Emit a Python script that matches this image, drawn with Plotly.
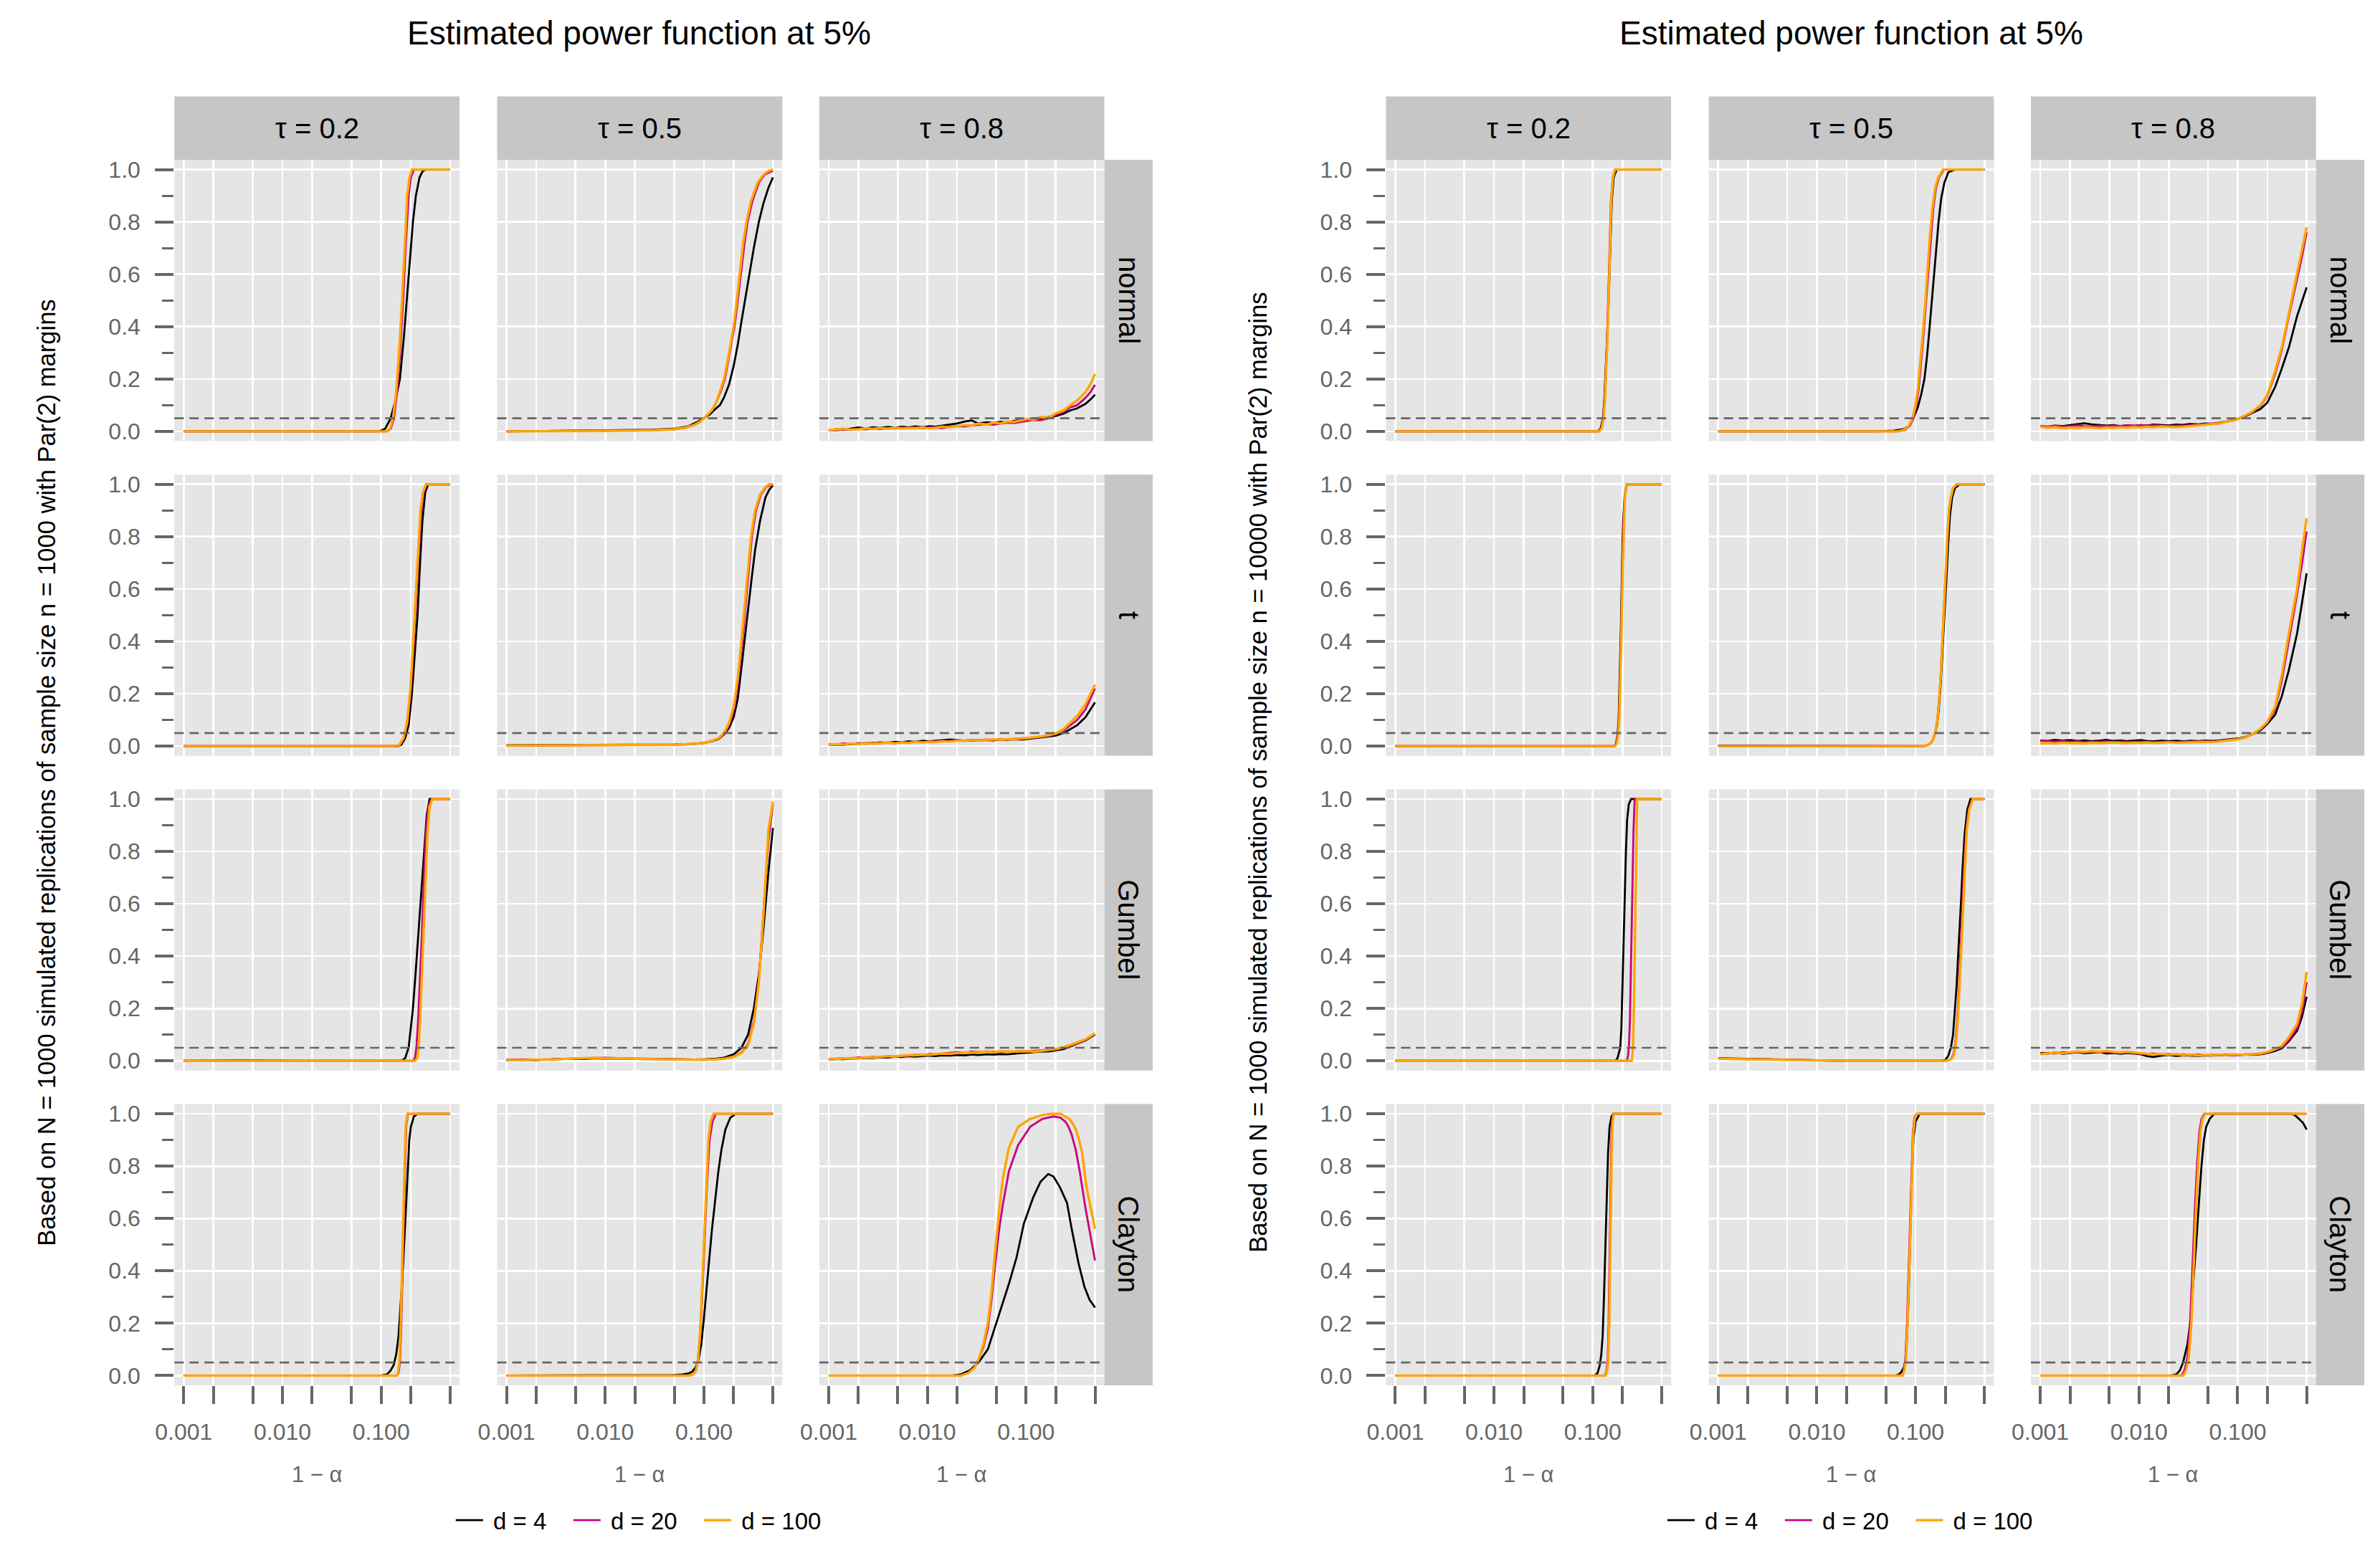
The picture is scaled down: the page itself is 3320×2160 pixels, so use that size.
import math
import plotly.graph_objects as go

# ---------------- data ----------------
X_TICKS = [0.001, 0.002, 0.005, 0.01, 0.02, 0.05, 0.1, 0.2, 0.5]
X_TICKTEXT = ["0.001", "", "", "0.010", "", "", "0.100", "", ""]
Y_TICKS = [0.0, 0.2, 0.4, 0.6, 0.8, 1.0]
Y_TICKTEXT = ["0.0", "0.2", "0.4", "0.6", "0.8", "1.0"]
Y_MINOR = [0.1, 0.3, 0.5, 0.7, 0.9]
TAUS = ["τ = 0.2", "τ = 0.5", "τ = 0.8"]
COPULAS = ["normal", "t", "Gumbel", "Clayton"]
DIMS = ["d = 4", "d = 20", "d = 100"]
COLORS = ["#000000", "#C8067F", "#FFA500"]
LEVEL = 0.05
TITLES = ["Estimated power function at 5%", "Estimated power function at 5%"]
YTITLES = [
    "Based on N = 1000 simulated replications of sample size n = 1000 with Par(2) margins",
    "Based on N = 1000 simulated replications of sample size n = 10000 with Par(2) margins",
]
XLABEL = "1 − α"

# common x grid for the noisy (tau = 0.8) panels
NX = [0.001, 0.0012, 0.0014, 0.0017, 0.002, 0.0024, 0.0028, 0.0033, 0.004, 0.0047,
      0.0055, 0.0065, 0.0075, 0.009, 0.0105, 0.012, 0.014, 0.017, 0.02, 0.024,
      0.028, 0.033, 0.04, 0.047, 0.055, 0.065, 0.075, 0.09, 0.105, 0.12,
      0.14, 0.17, 0.2, 0.24, 0.28, 0.33, 0.4, 0.45, 0.5]

# ===== n = 1000 (left) =====
# normal, tau 0.2
A_nor_2_d4_x = [0.001, 0.095, 0.11, 0.125, 0.14, 0.155, 0.17, 0.182, 0.195, 0.21, 0.225, 0.245, 0.265, 0.285, 0.5]
A_nor_2_d4_y = [0, 0, 0.01, 0.05, 0.12, 0.2, 0.36, 0.5, 0.65, 0.8, 0.9, 0.97, 0.995, 1, 1]
A_nor_2_d20_x = [0.001, 0.115, 0.125, 0.135, 0.145, 0.155, 0.167, 0.178, 0.19, 0.2, 0.215, 0.5]
A_nor_2_d20_y = [0, 0, 0.01, 0.05, 0.15, 0.3, 0.5, 0.72, 0.9, 0.97, 1, 1]
A_nor_2_d100_x = [0.001, 0.113, 0.123, 0.132, 0.142, 0.152, 0.163, 0.173, 0.184, 0.194, 0.205, 0.5]
A_nor_2_d100_y = [0, 0, 0.01, 0.05, 0.15, 0.3, 0.5, 0.72, 0.9, 0.97, 1, 1]
# normal, tau 0.5
A_nor_5_d4_x = [0.001, 0.005, 0.01, 0.02, 0.03, 0.05, 0.07, 0.085, 0.1, 0.115, 0.13, 0.145, 0.16, 0.18, 0.2, 0.22, 0.24, 0.265, 0.29, 0.32, 0.36, 0.4, 0.45, 0.5]
A_nor_5_d4_y = [0, 0.002, 0.003, 0.004, 0.006, 0.01, 0.02, 0.035, 0.05, 0.065, 0.085, 0.1, 0.13, 0.18, 0.25, 0.33, 0.42, 0.52, 0.6, 0.7, 0.8, 0.87, 0.93, 0.97]
A_nor_5_d20_x = [0.001, 0.002, 0.005, 0.01, 0.02, 0.03, 0.05, 0.065, 0.08, 0.09, 0.1, 0.11, 0.12, 0.133, 0.147, 0.163, 0.183, 0.204, 0.22, 0.236, 0.256, 0.277, 0.31, 0.36, 0.41, 0.46, 0.5]
A_nor_5_d20_y = [0, 0.001, 0.001, 0.003, 0.003, 0.005, 0.008, 0.014, 0.025, 0.035, 0.05, 0.065, 0.08, 0.11, 0.15, 0.2, 0.3, 0.4, 0.5, 0.6, 0.71, 0.8, 0.88, 0.95, 0.98, 0.99, 0.995]
A_nor_5_d100_x = [0.001, 0.002, 0.005, 0.01, 0.02, 0.03, 0.05, 0.065, 0.08, 0.09, 0.1, 0.11, 0.12, 0.133, 0.145, 0.16, 0.18, 0.2, 0.215, 0.23, 0.25, 0.27, 0.3, 0.35, 0.4, 0.45, 0.5]
A_nor_5_d100_y = [0, 0, 0.001, 0.002, 0.003, 0.004, 0.008, 0.015, 0.025, 0.035, 0.05, 0.065, 0.08, 0.11, 0.15, 0.2, 0.3, 0.4, 0.5, 0.6, 0.72, 0.8, 0.88, 0.95, 0.98, 0.995, 1]
# normal, tau 0.8 (x = NX)
A_nor_8_d4_y = [0.003, 0.008, 0.006, 0.012, 0.015, 0.011, 0.016, 0.013, 0.017, 0.014,
                0.018, 0.015, 0.019, 0.016, 0.020, 0.018, 0.022, 0.027, 0.030, 0.038,
                0.042, 0.030, 0.035, 0.032, 0.036, 0.034, 0.040, 0.044, 0.042, 0.050,
                0.047, 0.055, 0.058, 0.068, 0.080, 0.088, 0.105, 0.122, 0.140]
A_nor_8_d20_y = [0.005, 0.004, 0.008, 0.006, 0.010, 0.008, 0.012, 0.009, 0.013, 0.011,
                 0.014, 0.012, 0.015, 0.013, 0.016, 0.014, 0.013, 0.018, 0.020, 0.019,
                 0.023, 0.025, 0.028, 0.026, 0.030, 0.034, 0.032, 0.037, 0.040, 0.044,
                 0.043, 0.050, 0.063, 0.075, 0.092, 0.100, 0.128, 0.150, 0.178]
A_nor_8_d100_y = [0.004, 0.006, 0.010, 0.007, 0.008, 0.012, 0.009, 0.013, 0.010, 0.014,
                  0.011, 0.013, 0.012, 0.015, 0.011, 0.014, 0.018, 0.016, 0.020, 0.024,
                  0.022, 0.030, 0.026, 0.034, 0.030, 0.038, 0.036, 0.042, 0.048, 0.045,
                  0.055, 0.052, 0.069, 0.080, 0.100, 0.118, 0.150, 0.180, 0.220]
# t, tau 0.2
A_t_2_d4_x = [0.001, 0.145, 0.16, 0.175, 0.19, 0.205, 0.22, 0.234, 0.248, 0.262, 0.28, 0.3, 0.5]
A_t_2_d4_y = [0, 0, 0.005, 0.03, 0.08, 0.2, 0.36, 0.5, 0.7, 0.86, 0.97, 1, 1]
A_t_2_d20_x = [0.001, 0.14, 0.155, 0.17, 0.185, 0.2, 0.213, 0.226, 0.24, 0.255, 0.27, 0.29, 0.5]
A_t_2_d20_y = [0, 0, 0.005, 0.03, 0.09, 0.22, 0.38, 0.55, 0.75, 0.9, 0.97, 1, 1]
A_t_2_d100_x = [0.001, 0.138, 0.153, 0.168, 0.183, 0.198, 0.21, 0.222, 0.236, 0.25, 0.265, 0.285, 0.5]
A_t_2_d100_y = [0, 0, 0.005, 0.03, 0.09, 0.22, 0.38, 0.55, 0.75, 0.9, 0.97, 1, 1]
# t, tau 0.5
A_t_5_d4_x = [0.001, 0.005, 0.01, 0.02, 0.05, 0.08, 0.1, 0.12, 0.14, 0.16, 0.18, 0.2, 0.22, 0.24, 0.26, 0.28, 0.3, 0.33, 0.37, 0.42, 0.46, 0.5]
A_t_5_d4_y = [0.003, 0.004, 0.003, 0.005, 0.006, 0.009, 0.012, 0.018, 0.027, 0.045, 0.07, 0.11, 0.18, 0.3, 0.42, 0.52, 0.62, 0.75, 0.86, 0.95, 0.98, 0.995]
A_t_5_d20_x = [0.001, 0.005, 0.01, 0.02, 0.05, 0.08, 0.1, 0.122, 0.143, 0.163, 0.184, 0.204, 0.224, 0.245, 0.265, 0.286, 0.306, 0.337, 0.377, 0.428, 0.47, 0.5]
A_t_5_d20_y = [0.002, 0.003, 0.004, 0.004, 0.005, 0.008, 0.012, 0.02, 0.03, 0.05, 0.09, 0.15, 0.26, 0.4, 0.54, 0.68, 0.8, 0.9, 0.96, 0.99, 0.995, 1]
A_t_5_d100_x = [0.001, 0.005, 0.01, 0.02, 0.05, 0.08, 0.1, 0.12, 0.14, 0.16, 0.18, 0.2, 0.22, 0.24, 0.26, 0.28, 0.3, 0.33, 0.37, 0.42, 0.46, 0.5]
A_t_5_d100_y = [0.002, 0.003, 0.004, 0.004, 0.005, 0.008, 0.012, 0.02, 0.03, 0.05, 0.09, 0.15, 0.26, 0.4, 0.54, 0.68, 0.8, 0.9, 0.96, 0.99, 1, 1]
# t, tau 0.8 (x = NX)
A_t_8_d4_y = [0.004, 0.006, 0.005, 0.009, 0.008, 0.012, 0.010, 0.014, 0.012, 0.016,
              0.015, 0.018, 0.016, 0.020, 0.018, 0.020, 0.022, 0.025, 0.023, 0.020,
              0.022, 0.021, 0.023, 0.022, 0.025, 0.024, 0.026, 0.025, 0.027, 0.030,
              0.032, 0.036, 0.040, 0.050, 0.065, 0.080, 0.110, 0.140, 0.167]
A_t_8_d20_y = [0.008, 0.006, 0.010, 0.008, 0.011, 0.009, 0.013, 0.011, 0.014, 0.012,
               0.015, 0.013, 0.017, 0.015, 0.017, 0.019, 0.018, 0.020, 0.022, 0.021,
               0.024, 0.022, 0.025, 0.023, 0.027, 0.025, 0.028, 0.030, 0.029, 0.033,
               0.036, 0.040, 0.047, 0.060, 0.080, 0.100, 0.140, 0.180, 0.220]
A_t_8_d100_y = [0.005, 0.008, 0.006, 0.010, 0.007, 0.012, 0.009, 0.011, 0.013, 0.010,
                0.014, 0.012, 0.016, 0.014, 0.016, 0.015, 0.019, 0.017, 0.021, 0.020,
                0.023, 0.021, 0.024, 0.026, 0.025, 0.027, 0.026, 0.029, 0.031, 0.034,
                0.036, 0.042, 0.048, 0.065, 0.090, 0.115, 0.160, 0.200, 0.235]
# Gumbel, tau 0.2
A_gum_2_d4_x = [0.001, 0.004, 0.01, 0.015, 0.16, 0.175, 0.19, 0.2, 0.21, 0.225, 0.24, 0.255, 0.27, 0.29, 0.31, 0.5]
A_gum_2_d4_y = [0, 0.002, 0.001, 0, 0, 0.01, 0.05, 0.12, 0.2, 0.35, 0.5, 0.66, 0.8, 0.94, 1, 1]
A_gum_2_d20_x = [0.001, 0.21, 0.22, 0.228, 0.237, 0.247, 0.26, 0.272, 0.285, 0.3, 0.325, 0.5]
A_gum_2_d20_y = [0, 0, 0.01, 0.05, 0.15, 0.3, 0.5, 0.7, 0.87, 0.97, 1, 1]
A_gum_2_d100_x = [0.001, 0.22, 0.232, 0.24, 0.248, 0.258, 0.272, 0.283, 0.295, 0.31, 0.33, 0.5]
A_gum_2_d100_y = [0, 0, 0.01, 0.05, 0.15, 0.3, 0.5, 0.7, 0.87, 0.97, 1, 1]
# Gumbel, tau 0.5
A_gum_5_x = [0.001, 0.0015, 0.002, 0.003, 0.004, 0.006, 0.008, 0.01, 0.015, 0.02, 0.03, 0.05, 0.08, 0.1, 0.13, 0.16, 0.2, 0.24, 0.28, 0.32, 0.36, 0.4, 0.45, 0.5]
A_gum_5_d4_y = [0.002, 0.004, 0.003, 0.006, 0.008, 0.007, 0.010, 0.008, 0.009, 0.007, 0.006, 0.006, 0.005, 0.006, 0.008, 0.012, 0.025, 0.05, 0.1, 0.2, 0.33, 0.5, 0.72, 0.89]
A_gum_5_d20_y = [0.004, 0.003, 0.004, 0.006, 0.007, 0.009, 0.011, 0.012, 0.010, 0.009, 0.007, 0.006, 0.005, 0.004, 0.006, 0.009, 0.017, 0.032, 0.065, 0.15, 0.31, 0.55, 0.84, 0.98]
A_gum_5_d100_y = [0.003, 0.002, 0.005, 0.004, 0.008, 0.010, 0.012, 0.009, 0.010, 0.008, 0.006, 0.005, 0.004, 0.004, 0.005, 0.008, 0.015, 0.03, 0.06, 0.14, 0.3, 0.55, 0.88, 0.99]
# Gumbel, tau 0.8 (x = NX)
A_gum_8_d4_y = [0.004, 0.007, 0.006, 0.010, 0.009, 0.012, 0.011, 0.014, 0.013, 0.016,
                0.015, 0.018, 0.016, 0.019, 0.020, 0.018, 0.021, 0.020, 0.022, 0.021,
                0.024, 0.022, 0.025, 0.024, 0.026, 0.025, 0.028, 0.030, 0.031, 0.033,
                0.035, 0.036, 0.040, 0.045, 0.055, 0.065, 0.078, 0.090, 0.100]
A_gum_8_d20_y = [0.006, 0.008, 0.010, 0.009, 0.013, 0.012, 0.015, 0.014, 0.017, 0.016,
                 0.019, 0.020, 0.023, 0.022, 0.026, 0.025, 0.028, 0.030, 0.033, 0.031,
                 0.035, 0.034, 0.036, 0.035, 0.034, 0.036, 0.035, 0.037, 0.036, 0.038,
                 0.040, 0.042, 0.045, 0.050, 0.058, 0.066, 0.080, 0.092, 0.100]
A_gum_8_d100_y = [0.005, 0.007, 0.009, 0.011, 0.010, 0.014, 0.013, 0.016, 0.018, 0.017,
                  0.020, 0.022, 0.021, 0.024, 0.023, 0.026, 0.028, 0.027, 0.030, 0.032,
                  0.031, 0.034, 0.036, 0.033, 0.037, 0.035, 0.036, 0.038, 0.037, 0.035,
                  0.038, 0.040, 0.045, 0.052, 0.060, 0.070, 0.082, 0.095, 0.105]
# Clayton, tau 0.2
A_cla_2_d4_x = [0.001, 0.1, 0.115, 0.125, 0.134, 0.142, 0.15, 0.157, 0.164, 0.171, 0.179, 0.186, 0.193, 0.2, 0.215, 0.235, 0.5]
A_cla_2_d4_y = [0, 0, 0.005, 0.02, 0.04, 0.08, 0.15, 0.25, 0.37, 0.5, 0.65, 0.8, 0.9, 0.95, 0.99, 1, 1]
A_cla_2_d20_x = [0.001, 0.144, 0.15, 0.155, 0.16, 0.165, 0.17, 0.174, 0.179, 0.187, 0.5]
A_cla_2_d20_y = [0, 0, 0.01, 0.05, 0.2, 0.42, 0.62, 0.8, 0.95, 1, 1]
A_cla_2_d100_x = [0.001, 0.143, 0.148, 0.153, 0.158, 0.163, 0.168, 0.172, 0.177, 0.185, 0.5]
A_cla_2_d100_y = [0, 0, 0.01, 0.05, 0.2, 0.42, 0.62, 0.8, 0.95, 1, 1]
# Clayton, tau 0.5
A_cla_5_d4_x = [0.001, 0.04, 0.05, 0.06, 0.07, 0.076, 0.082, 0.088, 0.094, 0.1, 0.106, 0.112, 0.12, 0.13, 0.14, 0.15, 0.165, 0.185, 0.21, 0.5]
A_cla_5_d4_y = [0, 0, 0.002, 0.004, 0.008, 0.015, 0.03, 0.06, 0.12, 0.22, 0.33, 0.43, 0.55, 0.67, 0.78, 0.86, 0.94, 0.985, 1, 1]
A_cla_5_d20_x = [0.001, 0.072, 0.078, 0.083, 0.087, 0.091, 0.096, 0.101, 0.107, 0.114, 0.122, 0.132, 0.5]
A_cla_5_d20_y = [0, 0, 0.005, 0.02, 0.06, 0.15, 0.3, 0.5, 0.72, 0.9, 0.97, 1, 1]
A_cla_5_d100_x = [0.001, 0.072, 0.078, 0.083, 0.087, 0.091, 0.095, 0.1, 0.105, 0.111, 0.117, 0.125, 0.5]
A_cla_5_d100_y = [0, 0, 0.005, 0.02, 0.06, 0.15, 0.3, 0.5, 0.72, 0.9, 0.97, 1, 1]
# Clayton, tau 0.8
A_cla_8_d4_x = [0.001, 0.018, 0.022, 0.027, 0.033, 0.041, 0.048, 0.056, 0.067, 0.08, 0.095, 0.118, 0.14, 0.168, 0.19, 0.22, 0.26, 0.29, 0.34, 0.39, 0.44, 0.5]
A_cla_8_d4_y = [0, 0, 0.005, 0.02, 0.05, 0.1, 0.18, 0.26, 0.35, 0.45, 0.58, 0.68, 0.74, 0.77, 0.76, 0.72, 0.66, 0.56, 0.43, 0.34, 0.29, 0.26]
A_cla_8_d20_x = [0.001, 0.022, 0.026, 0.03, 0.033, 0.037, 0.041, 0.045, 0.048, 0.053, 0.058, 0.067, 0.083, 0.11, 0.146, 0.19, 0.223, 0.25, 0.27, 0.29, 0.32, 0.35, 0.4, 0.45, 0.5]
A_cla_8_d20_y = [0, 0, 0.01, 0.03, 0.06, 0.11, 0.18, 0.3, 0.4, 0.55, 0.65, 0.78, 0.88, 0.95, 0.98, 0.99, 0.985, 0.97, 0.95, 0.92, 0.86, 0.78, 0.64, 0.54, 0.44]
A_cla_8_d100_x = [0.001, 0.022, 0.026, 0.03, 0.033, 0.037, 0.041, 0.045, 0.048, 0.053, 0.058, 0.067, 0.083, 0.11, 0.146, 0.18, 0.223, 0.25, 0.275, 0.3, 0.32, 0.345, 0.37, 0.41, 0.45, 0.5]
A_cla_8_d100_y = [0, 0, 0.01, 0.03, 0.06, 0.12, 0.2, 0.33, 0.45, 0.62, 0.75, 0.87, 0.95, 0.98, 0.995, 1, 1, 0.99, 0.98, 0.96, 0.94, 0.9, 0.85, 0.72, 0.64, 0.56]

# ===== n = 10000 (right) =====
# normal, tau 0.2
B_nor_2_d4_x = [0.001, 0.112, 0.12, 0.127, 0.131, 0.135, 0.14, 0.145, 0.15, 0.156, 0.163, 0.175, 0.5]
B_nor_2_d4_y = [0, 0, 0.01, 0.05, 0.12, 0.22, 0.36, 0.5, 0.68, 0.88, 0.97, 1, 1]
B_nor_2_d20_x = [0.001, 0.115, 0.122, 0.128, 0.132, 0.136, 0.14, 0.144, 0.148, 0.153, 0.16, 0.17, 0.5]
B_nor_2_d20_y = [0, 0, 0.01, 0.05, 0.12, 0.22, 0.36, 0.5, 0.68, 0.88, 0.97, 1, 1]
B_nor_2_d100_x = [0.001, 0.116, 0.123, 0.129, 0.133, 0.137, 0.141, 0.145, 0.149, 0.154, 0.16, 0.168, 0.5]
B_nor_2_d100_y = [0, 0, 0.01, 0.05, 0.12, 0.22, 0.36, 0.5, 0.68, 0.88, 0.97, 1, 1]
# normal, tau 0.5
B_nor_5_d4_x = [0.001, 0.04, 0.06, 0.075, 0.085, 0.095, 0.105, 0.114, 0.123, 0.131, 0.139, 0.146, 0.154, 0.162, 0.171, 0.182, 0.196, 0.215, 0.25, 0.5]
B_nor_5_d4_y = [0, 0, 0.003, 0.008, 0.02, 0.05, 0.09, 0.14, 0.2, 0.29, 0.4, 0.5, 0.6, 0.7, 0.8, 0.89, 0.95, 0.99, 1, 1]
B_nor_5_d20_x = [0.001, 0.066, 0.077, 0.087, 0.095, 0.102, 0.108, 0.114, 0.121, 0.128, 0.136, 0.143, 0.151, 0.161, 0.173, 0.194, 0.5]
B_nor_5_d20_y = [0, 0, 0.005, 0.02, 0.05, 0.1, 0.17, 0.26, 0.38, 0.5, 0.63, 0.75, 0.85, 0.93, 0.97, 1, 1]
B_nor_5_d100_x = [0.001, 0.065, 0.075, 0.085, 0.093, 0.1, 0.106, 0.112, 0.119, 0.126, 0.133, 0.14, 0.148, 0.158, 0.17, 0.19, 0.5]
B_nor_5_d100_y = [0, 0, 0.005, 0.02, 0.05, 0.1, 0.17, 0.26, 0.38, 0.5, 0.63, 0.75, 0.85, 0.93, 0.97, 1, 1]
# normal, tau 0.8 (x = NX)
B_nor_8_d4_y = [0.020, 0.018, 0.022, 0.020, 0.024, 0.028, 0.031, 0.027, 0.025, 0.022,
                0.024, 0.020, 0.023, 0.021, 0.024, 0.022, 0.026, 0.024, 0.023, 0.026,
                0.025, 0.028, 0.027, 0.030, 0.029, 0.033, 0.037, 0.042, 0.050, 0.058,
                0.070, 0.085, 0.110, 0.170, 0.240, 0.320, 0.440, 0.500, 0.550]
B_nor_8_d20_y = [0.020, 0.017, 0.022, 0.018, 0.020, 0.023, 0.020, 0.018, 0.021, 0.019,
                 0.022, 0.020, 0.023, 0.021, 0.024, 0.022, 0.023, 0.021, 0.020, 0.022,
                 0.021, 0.023, 0.025, 0.027, 0.029, 0.032, 0.037, 0.043, 0.050, 0.060,
                 0.073, 0.098, 0.135, 0.220, 0.310, 0.440, 0.580, 0.670, 0.760]
B_nor_8_d100_y = [0.018, 0.014, 0.016, 0.012, 0.015, 0.013, 0.016, 0.014, 0.012, 0.015,
                  0.013, 0.016, 0.014, 0.017, 0.015, 0.018, 0.016, 0.019, 0.017, 0.016,
                  0.018, 0.020, 0.022, 0.025, 0.027, 0.030, 0.036, 0.042, 0.050, 0.062,
                  0.075, 0.100, 0.139, 0.230, 0.320, 0.450, 0.600, 0.690, 0.780]
# t, tau 0.2
B_t_2_d4_x = [0.001, 0.165, 0.172, 0.178, 0.183, 0.188, 0.193, 0.198, 0.203, 0.21, 0.22, 0.5]
B_t_2_d4_y = [0, 0, 0.01, 0.04, 0.1, 0.25, 0.45, 0.68, 0.85, 0.95, 1, 1]
B_t_2_d20_x = [0.001, 0.167, 0.174, 0.18, 0.185, 0.19, 0.195, 0.2, 0.205, 0.212, 0.222, 0.5]
B_t_2_d20_y = [0, 0, 0.01, 0.04, 0.1, 0.25, 0.45, 0.68, 0.85, 0.95, 1, 1]
B_t_2_d100_x = [0.001, 0.168, 0.175, 0.181, 0.186, 0.191, 0.196, 0.201, 0.206, 0.212, 0.22, 0.5]
B_t_2_d100_y = [0, 0, 0.01, 0.04, 0.1, 0.25, 0.45, 0.68, 0.85, 0.95, 1, 1]
# t, tau 0.5
B_t_5_d4_x = [0.001, 0.0015, 0.002, 0.12, 0.135, 0.145, 0.152, 0.158, 0.165, 0.172, 0.18, 0.188, 0.196, 0.205, 0.214, 0.223, 0.235, 0.25, 0.28, 0.5]
B_t_5_d4_y = [0.002, 0.002, 0, 0, 0.005, 0.015, 0.03, 0.05, 0.08, 0.14, 0.24, 0.36, 0.48, 0.63, 0.77, 0.88, 0.95, 0.985, 1, 1]
B_t_5_d20_x = [0.001, 0.12, 0.135, 0.145, 0.152, 0.158, 0.165, 0.172, 0.18, 0.187, 0.194, 0.202, 0.21, 0.218, 0.228, 0.24, 0.262, 0.5]
B_t_5_d20_y = [0, 0, 0.005, 0.015, 0.03, 0.05, 0.09, 0.16, 0.27, 0.39, 0.5, 0.66, 0.8, 0.9, 0.95, 0.985, 1, 1]
B_t_5_d100_x = [0.001, 0.12, 0.135, 0.145, 0.152, 0.158, 0.165, 0.172, 0.18, 0.187, 0.194, 0.202, 0.21, 0.218, 0.228, 0.24, 0.26, 0.5]
B_t_5_d100_y = [0, 0, 0.005, 0.015, 0.03, 0.05, 0.09, 0.16, 0.27, 0.39, 0.5, 0.66, 0.8, 0.9, 0.95, 0.985, 1, 1]
# t, tau 0.8 (x = NX)
B_t_8_d4_y = [0.022, 0.020, 0.024, 0.021, 0.023, 0.020, 0.022, 0.019, 0.021, 0.024,
              0.020, 0.022, 0.019, 0.021, 0.023, 0.020, 0.018, 0.021, 0.019, 0.020,
              0.018, 0.020, 0.019, 0.021, 0.020, 0.022, 0.025, 0.028, 0.030, 0.035,
              0.045, 0.060, 0.085, 0.120, 0.190, 0.290, 0.430, 0.550, 0.660]
B_t_8_d20_y = [0.020, 0.018, 0.017, 0.019, 0.016, 0.018, 0.015, 0.017, 0.016, 0.018,
               0.015, 0.017, 0.016, 0.015, 0.017, 0.016, 0.015, 0.017, 0.016, 0.015,
               0.016, 0.017, 0.016, 0.018, 0.017, 0.019, 0.021, 0.024, 0.028, 0.034,
               0.045, 0.065, 0.090, 0.140, 0.250, 0.400, 0.580, 0.700, 0.820]
B_t_8_d100_y = [0.010, 0.012, 0.010, 0.013, 0.011, 0.012, 0.010, 0.013, 0.011, 0.012,
                0.014, 0.012, 0.011, 0.013, 0.012, 0.014, 0.012, 0.013, 0.015, 0.013,
                0.014, 0.015, 0.014, 0.016, 0.015, 0.018, 0.020, 0.023, 0.027, 0.033,
                0.045, 0.066, 0.093, 0.150, 0.270, 0.430, 0.600, 0.750, 0.870]
# Gumbel, tau 0.2
B_gum_2_d4_x = [0.001, 0.17, 0.178, 0.185, 0.19, 0.195, 0.2, 0.206, 0.212, 0.217, 0.223, 0.232, 0.245, 0.5]
B_gum_2_d4_y = [0, 0, 0.01, 0.03, 0.05, 0.12, 0.3, 0.5, 0.68, 0.8, 0.92, 0.98, 1, 1]
B_gum_2_d20_x = [0.001, 0.222, 0.228, 0.233, 0.238, 0.243, 0.248, 0.253, 0.259, 0.266, 0.5]
B_gum_2_d20_y = [0, 0, 0.02, 0.06, 0.15, 0.32, 0.5, 0.7, 0.88, 1, 1]
B_gum_2_d100_x = [0.001, 0.248, 0.252, 0.256, 0.26, 0.264, 0.268, 0.272, 0.276, 0.282, 0.5]
B_gum_2_d100_y = [0, 0, 0.02, 0.06, 0.15, 0.32, 0.5, 0.7, 0.88, 1, 1]
# Gumbel, tau 0.5
B_gum_5_d4_x = [0.001, 0.002, 0.004, 0.007, 0.01, 0.02, 0.18, 0.2, 0.215, 0.228, 0.24, 0.25, 0.26, 0.27, 0.28, 0.29, 0.3, 0.315, 0.335, 0.36, 0.5]
B_gum_5_d4_y = [0.01, 0.008, 0.007, 0.004, 0.002, 0, 0, 0.003, 0.02, 0.05, 0.1, 0.18, 0.28, 0.4, 0.5, 0.62, 0.74, 0.87, 0.96, 1, 1]
B_gum_5_d20_x = [0.001, 0.002, 0.004, 0.007, 0.01, 0.02, 0.2, 0.22, 0.232, 0.242, 0.252, 0.262, 0.272, 0.282, 0.292, 0.302, 0.312, 0.327, 0.347, 0.375, 0.5]
B_gum_5_d20_y = [0.009, 0.007, 0.005, 0.003, 0.001, 0, 0, 0.003, 0.01, 0.025, 0.06, 0.13, 0.23, 0.36, 0.5, 0.63, 0.76, 0.88, 0.96, 1, 1]
B_gum_5_d100_x = [0.001, 0.002, 0.004, 0.007, 0.01, 0.02, 0.2, 0.22, 0.235, 0.245, 0.255, 0.265, 0.275, 0.285, 0.295, 0.305, 0.315, 0.33, 0.35, 0.38, 0.5]
B_gum_5_d100_y = [0.008, 0.006, 0.004, 0.002, 0.001, 0, 0, 0.003, 0.01, 0.025, 0.06, 0.13, 0.23, 0.36, 0.5, 0.63, 0.76, 0.88, 0.96, 1, 1]
# Gumbel, tau 0.8 (x = NX)
B_gum_8_d4_y = [0.030, 0.028, 0.032, 0.027, 0.030, 0.033, 0.029, 0.031, 0.034, 0.028,
                0.030, 0.027, 0.030, 0.028, 0.025, 0.018, 0.015, 0.020, 0.022, 0.019,
                0.021, 0.020, 0.019, 0.021, 0.020, 0.022, 0.021, 0.023, 0.022, 0.024,
                0.023, 0.025, 0.030, 0.038, 0.048, 0.075, 0.115, 0.170, 0.245]
B_gum_8_d20_y = [0.026, 0.030, 0.028, 0.033, 0.031, 0.034, 0.032, 0.036, 0.033, 0.035,
                 0.032, 0.030, 0.033, 0.030, 0.028, 0.026, 0.028, 0.024, 0.026, 0.023,
                 0.025, 0.022, 0.024, 0.021, 0.023, 0.022, 0.024, 0.023, 0.022, 0.025,
                 0.024, 0.027, 0.032, 0.042, 0.052, 0.080, 0.125, 0.190, 0.300]
B_gum_8_d100_y = [0.025, 0.028, 0.031, 0.029, 0.033, 0.036, 0.034, 0.037, 0.035, 0.038,
                  0.034, 0.032, 0.035, 0.031, 0.029, 0.027, 0.025, 0.027, 0.023, 0.026,
                  0.022, 0.024, 0.021, 0.023, 0.022, 0.024, 0.022, 0.025, 0.023, 0.024,
                  0.026, 0.028, 0.034, 0.045, 0.057, 0.090, 0.140, 0.220, 0.340]
# Clayton, tau 0.2
B_cla_2_d4_x = [0.001, 0.105, 0.112, 0.118, 0.122, 0.126, 0.13, 0.134, 0.138, 0.143, 0.148, 0.155, 0.162, 0.5]
B_cla_2_d4_y = [0, 0, 0.01, 0.04, 0.08, 0.15, 0.3, 0.5, 0.68, 0.85, 0.95, 0.99, 1, 1]
B_cla_2_d20_x = [0.001, 0.134, 0.138, 0.142, 0.145, 0.148, 0.151, 0.154, 0.157, 0.161, 0.5]
B_cla_2_d20_y = [0, 0, 0.02, 0.06, 0.2, 0.45, 0.7, 0.88, 0.97, 1, 1]
B_cla_2_d100_x = [0.001, 0.136, 0.14, 0.144, 0.147, 0.15, 0.153, 0.156, 0.159, 0.163, 0.5]
B_cla_2_d100_y = [0, 0, 0.02, 0.06, 0.2, 0.45, 0.7, 0.88, 0.97, 1, 1]
# Clayton, tau 0.5
B_cla_5_d4_x = [0.001, 0.063, 0.068, 0.072, 0.076, 0.079, 0.082, 0.085, 0.088, 0.091, 0.095, 0.1, 0.11, 0.5]
B_cla_5_d4_y = [0, 0, 0.005, 0.015, 0.03, 0.06, 0.15, 0.3, 0.5, 0.72, 0.9, 0.97, 1, 1]
B_cla_5_d20_x = [0.001, 0.073, 0.076, 0.079, 0.082, 0.085, 0.088, 0.091, 0.094, 0.098, 0.103, 0.5]
B_cla_5_d20_y = [0, 0, 0.02, 0.06, 0.2, 0.4, 0.6, 0.8, 0.93, 0.99, 1, 1]
B_cla_5_d100_x = [0.001, 0.074, 0.077, 0.08, 0.083, 0.086, 0.089, 0.092, 0.095, 0.099, 0.104, 0.5]
B_cla_5_d100_y = [0, 0, 0.02, 0.06, 0.2, 0.4, 0.6, 0.8, 0.93, 0.99, 1, 1]
# Clayton, tau 0.8
B_cla_8_d4_x = [0.001, 0.021, 0.024, 0.026, 0.028, 0.031, 0.033, 0.0355, 0.038, 0.0405, 0.043, 0.0455, 0.048, 0.052, 0.058, 0.35, 0.38, 0.42, 0.46, 0.5]
B_cla_8_d4_y = [0, 0, 0.005, 0.02, 0.05, 0.12, 0.2, 0.35, 0.5, 0.66, 0.8, 0.9, 0.95, 0.98, 1, 1, 0.995, 0.98, 0.965, 0.94]
B_cla_8_d20_x = [0.001, 0.027, 0.029, 0.031, 0.033, 0.035, 0.037, 0.039, 0.041, 0.043, 0.046, 0.5]
B_cla_8_d20_y = [0, 0, 0.02, 0.07, 0.2, 0.45, 0.65, 0.82, 0.93, 0.98, 1, 1]
B_cla_8_d100_x = [0.001, 0.028, 0.03, 0.032, 0.034, 0.036, 0.038, 0.04, 0.042, 0.044, 0.047, 0.5]
B_cla_8_d100_y = [0, 0, 0.02, 0.07, 0.2, 0.45, 0.65, 0.82, 0.93, 0.98, 1, 1]

# ---------------- assemble series per panel: [figure][row][col] -> 3 (x, y) ----------------
SERIES = [
    [  # n = 1000
        [[(A_nor_2_d4_x, A_nor_2_d4_y), (A_nor_2_d20_x, A_nor_2_d20_y), (A_nor_2_d100_x, A_nor_2_d100_y)],
         [(A_nor_5_d4_x, A_nor_5_d4_y), (A_nor_5_d20_x, A_nor_5_d20_y), (A_nor_5_d100_x, A_nor_5_d100_y)],
         [(NX, A_nor_8_d4_y), (NX, A_nor_8_d20_y), (NX, A_nor_8_d100_y)]],
        [[(A_t_2_d4_x, A_t_2_d4_y), (A_t_2_d20_x, A_t_2_d20_y), (A_t_2_d100_x, A_t_2_d100_y)],
         [(A_t_5_d4_x, A_t_5_d4_y), (A_t_5_d20_x, A_t_5_d20_y), (A_t_5_d100_x, A_t_5_d100_y)],
         [(NX, A_t_8_d4_y), (NX, A_t_8_d20_y), (NX, A_t_8_d100_y)]],
        [[(A_gum_2_d4_x, A_gum_2_d4_y), (A_gum_2_d20_x, A_gum_2_d20_y), (A_gum_2_d100_x, A_gum_2_d100_y)],
         [(A_gum_5_x, A_gum_5_d4_y), (A_gum_5_x, A_gum_5_d20_y), (A_gum_5_x, A_gum_5_d100_y)],
         [(NX, A_gum_8_d4_y), (NX, A_gum_8_d20_y), (NX, A_gum_8_d100_y)]],
        [[(A_cla_2_d4_x, A_cla_2_d4_y), (A_cla_2_d20_x, A_cla_2_d20_y), (A_cla_2_d100_x, A_cla_2_d100_y)],
         [(A_cla_5_d4_x, A_cla_5_d4_y), (A_cla_5_d20_x, A_cla_5_d20_y), (A_cla_5_d100_x, A_cla_5_d100_y)],
         [(A_cla_8_d4_x, A_cla_8_d4_y), (A_cla_8_d20_x, A_cla_8_d20_y), (A_cla_8_d100_x, A_cla_8_d100_y)]],
    ],
    [  # n = 10000
        [[(B_nor_2_d4_x, B_nor_2_d4_y), (B_nor_2_d20_x, B_nor_2_d20_y), (B_nor_2_d100_x, B_nor_2_d100_y)],
         [(B_nor_5_d4_x, B_nor_5_d4_y), (B_nor_5_d20_x, B_nor_5_d20_y), (B_nor_5_d100_x, B_nor_5_d100_y)],
         [(NX, B_nor_8_d4_y), (NX, B_nor_8_d20_y), (NX, B_nor_8_d100_y)]],
        [[(B_t_2_d4_x, B_t_2_d4_y), (B_t_2_d20_x, B_t_2_d20_y), (B_t_2_d100_x, B_t_2_d100_y)],
         [(B_t_5_d4_x, B_t_5_d4_y), (B_t_5_d20_x, B_t_5_d20_y), (B_t_5_d100_x, B_t_5_d100_y)],
         [(NX, B_t_8_d4_y), (NX, B_t_8_d20_y), (NX, B_t_8_d100_y)]],
        [[(B_gum_2_d4_x, B_gum_2_d4_y), (B_gum_2_d20_x, B_gum_2_d20_y), (B_gum_2_d100_x, B_gum_2_d100_y)],
         [(B_gum_5_d4_x, B_gum_5_d4_y), (B_gum_5_d20_x, B_gum_5_d20_y), (B_gum_5_d100_x, B_gum_5_d100_y)],
         [(NX, B_gum_8_d4_y), (NX, B_gum_8_d20_y), (NX, B_gum_8_d100_y)]],
        [[(B_cla_2_d4_x, B_cla_2_d4_y), (B_cla_2_d20_x, B_cla_2_d20_y), (B_cla_2_d100_x, B_cla_2_d100_y)],
         [(B_cla_5_d4_x, B_cla_5_d4_y), (B_cla_5_d20_x, B_cla_5_d20_y), (B_cla_5_d100_x, B_cla_5_d100_y)],
         [(B_cla_8_d4_x, B_cla_8_d4_y), (B_cla_8_d20_x, B_cla_8_d20_y), (B_cla_8_d100_x, B_cla_8_d100_y)]],
    ],
]

# ---------------- layout geometry (pixels) ----------------
W, H = 3320, 2160
FIG_OFFSET = 1704
COL_LEFT = [218, 672, 1125]
PANEL_W = 401
ROW_TOP = [220, 661, 1102, 1543]
PANEL_H = 394
STRIP_TOP = 131
STRIP_W = 68
X_RANGE = [-3.095, -0.206]      # log10 limits of the panels
Y_RANGE = [-0.037, 1.037]

FONT = "Liberation Sans, Arial, Helvetica, sans-serif"
GRAY = "#666666"
PANEL_BG = "#E5E5E5"
STRIP_BG = "#C6C6C6"
LINE_WIDTHS = [2.8, 2.9, 3.4]
NBSP = "\u00a0"


def px(x):
    return x / W


def py(y):
    return 1 - y / H


def suffix(i):
    return "" if i == 1 else str(i)


fig = go.Figure()
layout = dict(
    width=W, height=H, autosize=False,
    margin=dict(l=0, r=0, t=0, b=0),
    paper_bgcolor="white", plot_bgcolor=PANEL_BG,
    font=dict(family=FONT, size=32, color="black"),
    showlegend=True,
)
shapes = []
annotations = []

for f in range(2):
    off = f * FIG_OFFSET
    for r in range(4):
        for c in range(3):
            i = f * 12 + r * 3 + c + 1
            s = suffix(i)
            xl = off + COL_LEFT[c]
            yt = ROW_TOP[r]
            bottom = (r == 3)
            left = (c == 0)
            xa = dict(
                type="log", range=X_RANGE,
                domain=[px(xl), px(xl + PANEL_W)], anchor=f"y{s}",
                tickmode="array", tickvals=X_TICKS, ticktext=X_TICKTEXT,
                showticklabels=bottom, ticks="outside" if bottom else "",
                ticklen=25, tickwidth=4, tickcolor=GRAY,
                tickfont=dict(family=FONT, size=32, color=GRAY),
                ticklabelstandoff=12,
                showgrid=True, gridcolor="white", gridwidth=2.7,
                zeroline=False, showline=False, fixedrange=True,
            )
            ya = dict(
                range=Y_RANGE,
                domain=[py(yt + PANEL_H), py(yt)], anchor=f"x{s}",
                tickmode="array", tickvals=Y_TICKS, ticktext=Y_TICKTEXT,
                showticklabels=left, ticks="outside" if left else "",
                ticklen=26, tickwidth=4, tickcolor=GRAY,
                tickfont=dict(family=FONT, size=32, color=GRAY),
                ticklabelstandoff=14,
                showgrid=True, gridcolor="white", gridwidth=2.7,
                zeroline=False, showline=False, fixedrange=True,
                minor=dict(tickmode="array", tickvals=Y_MINOR,
                           ticks="outside" if left else "", ticklen=16,
                           tickwidth=3, tickcolor=GRAY, showgrid=False),
            )
            layout[f"xaxis{s}"] = xa
            layout[f"yaxis{s}"] = ya

            for d in range(3):
                xs, ys = SERIES[f][r][c][d]
                fig.add_trace(go.Scatter(
                    x=xs, y=ys, mode="lines",
                    name=NBSP + DIMS[d] + NBSP * 3,
                    line=dict(color=COLORS[d], width=LINE_WIDTHS[d]),
                    xaxis=f"x{s}", yaxis=f"y{s}",
                    legend="legend" if f == 0 else "legend2",
                    showlegend=(r == 0 and c == 0),
                    hoverinfo="skip",
                ))

            # 5% reference level
            shapes.append(dict(
                type="line", xref=f"x{s} domain", yref=f"y{s}",
                x0=0, x1=1, y0=LEVEL, y1=LEVEL, layer="above",
                line=dict(color=GRAY, width=2.7, dash="13px,8px"),
            ))

            # top strips (first row)
            if r == 0:
                shapes.append(dict(
                    type="rect", xref="paper", yref="paper", layer="below",
                    x0=px(xl), x1=px(xl + PANEL_W), y0=py(yt), y1=py(STRIP_TOP),
                    fillcolor=STRIP_BG, line=dict(width=0),
                ))
                annotations.append(dict(
                    text=TAUS[c], xref="paper", yref="paper",
                    x=px(xl + PANEL_W / 2), y=py((STRIP_TOP + yt) / 2),
                    xanchor="center", yanchor="middle", showarrow=False,
                    font=dict(family=FONT, size=40, color="black"),
                ))
            # right strips (last column)
            if c == 2:
                sx = xl + PANEL_W
                shapes.append(dict(
                    type="rect", xref="paper", yref="paper", layer="below",
                    x0=px(sx), x1=px(sx + STRIP_W), y0=py(yt + PANEL_H), y1=py(yt),
                    fillcolor=STRIP_BG, line=dict(width=0),
                ))
                annotations.append(dict(
                    text=COPULAS[r], xref="paper", yref="paper",
                    x=px(sx + STRIP_W / 2), y=py(yt + PANEL_H / 2),
                    xanchor="center", yanchor="middle", showarrow=False,
                    textangle=90,
                    font=dict(family=FONT, size=40, color="black"),
                ))
            # x-axis label under bottom panels
            if bottom:
                annotations.append(dict(
                    text=XLABEL, xref="paper", yref="paper",
                    x=px(xl + PANEL_W / 2), y=py(2062),
                    xanchor="center", yanchor="middle", showarrow=False,
                    font=dict(family=FONT, size=31, color=GRAY),
                ))

    # title over the panels
    panels_center = off + (COL_LEFT[0] + COL_LEFT[2] + PANEL_W) / 2
    annotations.append(dict(
        text=TITLES[f], xref="paper", yref="paper",
        x=px(panels_center), y=py(42), xanchor="center", yanchor="middle",
        showarrow=False, font=dict(family=FONT, size=46, color="black"),
    ))
    # y-axis title
    annotations.append(dict(
        text=YTITLES[f], xref="paper", yref="paper",
        x=px(off + 38), y=py((ROW_TOP[0] + ROW_TOP[3] + PANEL_H) / 2),
        xanchor="center", yanchor="middle", showarrow=False, textangle=-90,
        font=dict(family=FONT, size=34.5, color="black"),
    ))
    # legend
    leg = dict(
        orientation="h", x=px(panels_center + 13), y=py(2126),
        xanchor="center", yanchor="middle", bgcolor="rgba(0,0,0,0)",
        font=dict(family=FONT, size=33, color="black"),
        itemwidth=38, traceorder="normal",
    )
    layout["legend" if f == 0 else "legend2"] = leg

layout["shapes"] = shapes
layout["annotations"] = annotations
fig.update_layout(**layout)

fig.write_html(
    "out.html",
    config={"displayModeBar": False, "staticPlot": True},
    post_script="document.body.style.margin='0';",
)
